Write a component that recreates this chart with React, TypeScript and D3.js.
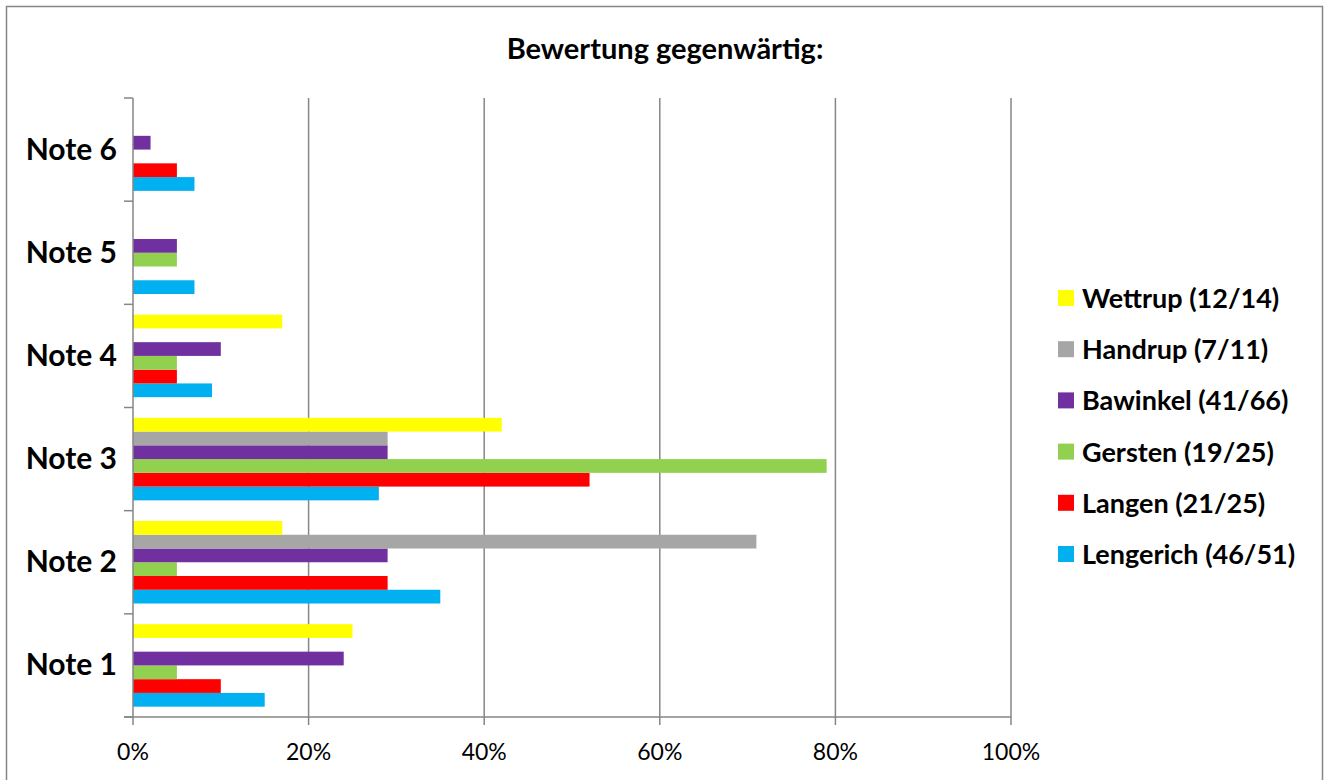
import React from "react";
import * as d3 from "d3";

const categories = ["Note 1", "Note 2", "Note 3", "Note 4", "Note 5", "Note 6"];
const seriesNames = [
  "Lengerich (46/51)",
  "Langen (21/25)",
  "Gersten (19/25)",
  "Bawinkel (41/66)",
  "Handrup (7/11)",
  "Wettrup (12/14)",
];
const seriesColors = ["#00B0F0", "#FF0000", "#92D050", "#7030A0", "#A6A6A6", "#FFFF00"];
// values in percent, per category (Note 1..Note 6)
const lengerich = [15, 35, 28, 9, 7, 7];
const langen = [10, 29, 52, 5, 0, 5];
const gersten = [5, 5, 79, 5, 5, 0];
const bawinkel = [24, 29, 29, 10, 5, 2];
const handrup = [0, 71, 29, 0, 0, 0];
const wettrup = [25, 17, 42, 17, 0, 0];
const seriesValues = [lengerich, langen, gersten, bawinkel, handrup, wettrup];
const xTicks = [0, 20, 40, 60, 80, 100];

const W = 1329;
const H = 780;
const left = 133;
const right = 1011;
const top = 98;
const bottom = 717;
const FONT = "Lato, 'Open Sans', sans-serif";

export default function App() {
  const x = d3.scaleLinear().domain([0, 100]).range([left, right]);
  const y = d3
    .scaleBand<string>()
    .domain(categories.slice().reverse())
    .range([top, bottom])
    .paddingInner(0.2)
    .paddingOuter(0.1);
  const yBand = d3
    .scaleBand<string>()
    .domain(categories.slice().reverse())
    .range([top, bottom]);
  const sub = d3
    .scaleBand<number>()
    .domain(d3.range(seriesNames.length).reverse())
    .range([0, y.bandwidth()]);

  const legendOrder = d3.range(seriesNames.length).reverse();

  return (
    <svg
      width={W}
      height={H}
      style={{ position: "absolute", left: 0, top: 0, background: "#fff" }}
    >
      <rect x={6.5} y={6.5} width={1316} height={800} fill="#fff" stroke="#868686" strokeWidth={1.5} />
      <text
        x={665}
        y={59}
        textAnchor="middle"
        fontFamily={FONT}
        fontWeight="bold"
        fontSize={29}
      >
        Bewertung gegenwärtig:
      </text>

      {/* gridlines */}
      {xTicks.slice(1).map((t) => (
        <line key={"g" + t} x1={x(t)} x2={x(t)} y1={top} y2={bottom} stroke="#868686" strokeWidth={1.5} />
      ))}

      {/* bars */}
      {categories.map((c) =>
        seriesValues.map((vals, si) => {
          const v = vals[categories.indexOf(c)];
          if (!v) return null;
          return (
            <rect
              key={c + si}
              x={x(0)}
              y={(y(c) as number) + (sub(si) as number)}
              width={x(v) - x(0)}
              height={sub.bandwidth()}
              fill={seriesColors[si]}
            />
          );
        })
      )}

      {/* y axis */}
      <line x1={left} x2={left} y1={top} y2={bottom} stroke="#868686" strokeWidth={1.5} />
      {d3.range(categories.length + 1).map((i) => (
        <line
          key={"yt" + i}
          x1={left - 9}
          x2={left}
          y1={top + i * yBand.step()}
          y2={top + i * yBand.step()}
          stroke="#868686"
          strokeWidth={1.5}
        />
      ))}
      {categories.map((c) => (
        <text
          key={"yl" + c}
          x={117}
          y={(yBand(c) as number) + yBand.bandwidth() / 2 + 10}
          textAnchor="end"
          fontFamily={FONT}
          fontWeight="bold"
          fontSize={30}
        >
          {c}
        </text>
      ))}

      {/* x axis */}
      <line x1={left - 9} x2={right} y1={bottom} y2={bottom} stroke="#868686" strokeWidth={1.5} />
      {xTicks.map((t) => (
        <g key={"xt" + t}>
          <line x1={x(t)} x2={x(t)} y1={bottom} y2={bottom + 8} stroke="#868686" strokeWidth={1.5} />
          <text x={x(t)} y={760} textAnchor="middle" fontFamily={FONT} fontSize={23}>
            {t + "%"}
          </text>
        </g>
      ))}

      {/* legend */}
      {legendOrder.map((si, i) => {
        const cy = 298 + i * 51.2;
        return (
          <g key={"lg" + si}>
            <rect x={1058} y={cy - 8} width={16} height={16} fill={seriesColors[si]} />
            <text x={1082} y={cy + 10} fontFamily={FONT} fontWeight="bold" fontSize={27}>
              {seriesNames[si]}
            </text>
          </g>
        );
      })}
    </svg>
  );
}
